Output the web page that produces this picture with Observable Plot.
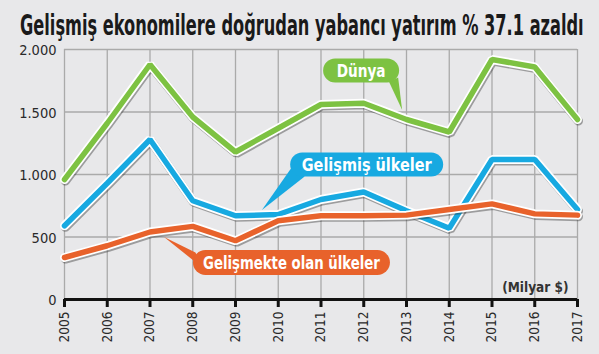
<!DOCTYPE html>
<html><head><meta charset="utf-8">
<script src="https://cdn.jsdelivr.net/npm/d3@7"></script>
<script src="https://cdn.jsdelivr.net/npm/@observablehq/plot@0.6"></script>
<style>
html,body{margin:0;padding:0;background:#e8e8ea;}
body{width:599px;height:354px;overflow:hidden;font-family:"DejaVu Sans Condensed",sans-serif;}
svg{display:block;overflow:visible;}
</style></head><body>
<svg id="title" width="599" height="44"><text id="titletext" x="0" y="0" font-family="DejaVu Sans Condensed, sans-serif" font-size="27.5" font-weight="bold" fill="#1a1a1a">Gelişmiş ekonomilere doğrudan yabancı yatırım % 37.1 azaldı</text></svg>
<div id="chart"></div>
<script>
// ---- data ----
const years = [2005, 2006, 2007, 2008, 2009, 2010, 2011, 2012, 2013, 2014, 2015, 2016, 2017];
const dunya = [960, 1410, 1880, 1460, 1180, 1370, 1560, 1570, 1440, 1340, 1920, 1860, 1440];
const gelismis = [590, 930, 1280, 790, 670, 680, 800, 860, 710, 570, 1120, 1120, 720];
const gelismekte = [336, 430, 540, 585, 470, 630, 670, 670, 675, 720, 765, 685, 675];
const seriesNames = ["Dünya", "Gelişmiş ülkeler", "Gelişmekte olan ülkeler"];
const yTicks = [0, 500, 1000, 1500, 2000];
const unitLabel = "(Milyar $)";

// fit the title into its width with a horizontal squeeze
const tt = document.getElementById("titletext");
const natural = tt.getComputedTextLength();
tt.setAttribute("transform", `translate(20,35) scale(${564 / natural},1)`);

// ---- styles / annotation placement ----
const seriesColors = ["#7dc242", "#17a9e1", "#e8622b"];
const callouts = [
  {label: seriesNames[0], cx: 2011.95, cy: 1828, tx: 2012.91, ty: 1512, w: 76, h: 24, a: [28, 11.5], b: [37, 7]},
  {label: seriesNames[1], cx: 2012.08, cy: 1076, tx: 2009.63, ty: 712, w: 153, h: 24, a: [-75, 3], b: [-62, 12]},
  {label: seriesNames[2], cx: 2010.32, cy: 292, tx: 2007.34, ty: 496, w: 197, h: 25, a: [-96, -10], b: [-88, 6]}
];
const calloutTextWidths = [49, 130, 177];

const rows = [];
[dunya, gelismis, gelismekte].forEach((vals, i) =>
  vals.forEach((v, j) => rows.push({series: seriesNames[i], year: years[j], value: v})));

const lineMarks = [];
seriesNames.forEach((name, i) => {
  const data = rows.filter(d => d.series === name);
  const common = {x: "year", y: "value", strokeLinejoin: "miter", strokeLinecap: "round"};
  lineMarks.push(Plot.line(data, {...common, stroke: "#2a2a2a", strokeOpacity: 0.4, strokeWidth: 9, dx: 1, dy: 1.6}));
  lineMarks.push(Plot.line(data, {...common, stroke: "white", strokeWidth: 9}));
  lineMarks.push(Plot.line(data, {...common, stroke: seriesColors[i], strokeWidth: 5.5}));
});

const fmt = d => d3.format(",")(d).replace(/,/g, ".");

const chart = Plot.plot({
  width: 599,
  height: 310,
  marginTop: 5,
  marginBottom: 55,
  marginLeft: 64,
  marginRight: 22,
  style: {background: "transparent", fontFamily: "DejaVu Sans Condensed, sans-serif", color: "#2a2a2a", overflow: "visible"},
  x: {domain: [2005, 2017]},
  y: {domain: [0, 2000]},
  marks: [
    Plot.gridY(yTicks, {stroke: "#aaaaaa", strokeOpacity: 1, strokeWidth: 1.3}),
    Plot.gridX(years, {stroke: "#aaaaaa", strokeOpacity: 1, strokeWidth: 1.3}),
    Plot.axisY(yTicks, {tickSize: 0, tickPadding: 8, tickFormat: fmt, fontSize: 14.5, dy: 1, label: null}),
    Plot.axisX(years, {tickSize: 8, tickPadding: 4, tickRotate: -90, tickFormat: d => String(d), fontSize: 13.5, stroke: "#111", strokeWidth: 3, label: null}),
    Plot.ruleY([0], {stroke: "#111", strokeWidth: 3}),
    ...lineMarks,
    Plot.text([unitLabel], {frameAnchor: "bottom-right", dx: -9, dy: -12, lineAnchor: "middle", textAnchor: "end", fontSize: 13.5, fontWeight: "bold", fill: "#333"})
  ]
});

document.getElementById("chart").appendChild(chart);

// callout labels, positioned through the plot's scales
const sx = chart.scale("x"), sy = chart.scale("y");
const g = d3.select(chart).append("g");
callouts.forEach((c, i) => {
  const cx = sx.apply(c.cx), cy = sy.apply(c.cy);
  const tx = sx.apply(c.tx), ty = sy.apply(c.ty);
  const col = seriesColors[i];
  g.append("path")
    .attr("d", `M${cx + c.a[0]},${cy + c.a[1]}L${tx},${ty}L${cx + c.b[0]},${cy + c.b[1]}Z`)
    .attr("fill", col);
  g.append("rect")
    .attr("x", cx - c.w / 2).attr("y", cy - c.h / 2)
    .attr("width", c.w).attr("height", c.h)
    .attr("rx", c.h / 2).attr("ry", c.h / 2)
    .attr("fill", col);
  const t = g.append("text")
    .attr("x", 0).attr("y", 0).attr("dy", "0.36em")
    .attr("text-anchor", "middle")
    .attr("fill", "white")
    .attr("font-size", 17)
    .attr("font-weight", "bold")
    .attr("font-family", "DejaVu Sans Condensed, sans-serif")
    .text(c.label);
  const len = t.node().getComputedTextLength();
  t.attr("transform", `translate(${cx},${cy}) scale(${calloutTextWidths[i] / len},1)`);
});
</script>
</body></html>
